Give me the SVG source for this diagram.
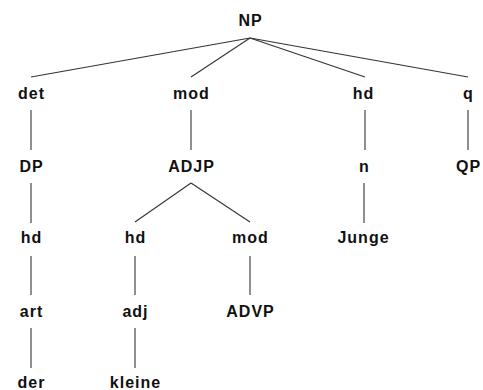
<svg xmlns="http://www.w3.org/2000/svg" width="483" height="390" viewBox="0 0 483 390">
<style>
text{font-family:"Liberation Sans",Arial,Helvetica,sans-serif;font-weight:bold;font-size:16px;fill:#111;text-anchor:middle;letter-spacing:1px}
.e line{stroke:#333;stroke-width:1.1}
</style>
<rect width="483" height="390" fill="#fff"/>
<g class="e" id="connectors">
<line x1="250" y1="38" x2="31" y2="77"/>
<line x1="250" y1="38" x2="191" y2="77"/>
<line x1="250" y1="38" x2="365" y2="77"/>
<line x1="250" y1="38" x2="468" y2="77"/>
<line x1="31" y1="110" x2="31" y2="150"/>
<line x1="191" y1="110" x2="191" y2="150"/>
<line x1="365" y1="110" x2="365" y2="150"/>
<line x1="468" y1="110" x2="468" y2="150"/>
<line x1="31" y1="183" x2="31" y2="223"/>
<line x1="191" y1="183" x2="135" y2="222"/>
<line x1="191" y1="183" x2="250" y2="222"/>
<line x1="364" y1="183" x2="364" y2="223"/>
<line x1="31" y1="256" x2="31" y2="295"/>
<line x1="135" y1="256" x2="135" y2="295"/>
<line x1="250" y1="256" x2="250" y2="295"/>
<line x1="31" y1="328" x2="31" y2="368"/>
<line x1="135" y1="328" x2="135" y2="368"/>
</g>
<g id="n-NP"><text x="250.5" y="26">NP</text></g>
<g id="n-det"><text x="31.5" y="99">det</text></g>
<g id="n-mod"><text x="191.5" y="99">mod</text></g>
<g id="n-hd1"><text x="363.5" y="99">hd</text></g>
<g id="n-q"><text x="468.5" y="99">q</text></g>
<g id="n-DP"><text x="31.5" y="172">DP</text></g>
<g id="n-ADJP"><text x="191.5" y="172">ADJP</text></g>
<g id="n-n"><text x="364.5" y="172">n</text></g>
<g id="n-QP"><text x="468.5" y="172">QP</text></g>
<g id="n-hd2"><text x="31.5" y="243">hd</text></g>
<g id="n-hd3"><text x="135.5" y="243">hd</text></g>
<g id="n-mod2"><text x="250.5" y="243">mod</text></g>
<g id="n-Junge"><text x="363.5" y="243">Junge</text></g>
<g id="n-art"><text x="31.5" y="317">art</text></g>
<g id="n-adj"><text x="135.5" y="317">adj</text></g>
<g id="n-ADVP"><text x="250.5" y="317">ADVP</text></g>
<g id="n-der"><text x="31.5" y="387.5">der</text></g>
<g id="n-kleine"><text x="135.5" y="387.5">kleine</text></g>
</svg>
